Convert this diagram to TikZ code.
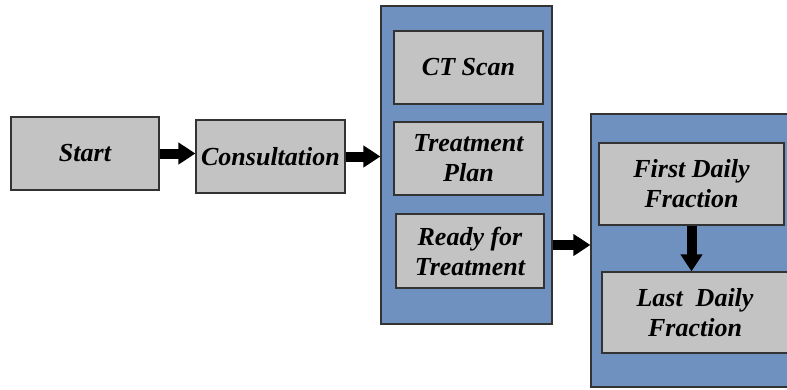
\documentclass[tikz,border=0pt]{standalone}
\usepackage{fontspec}
\setmainfont{Liberation Serif}
\usepackage{xcolor}
\usetikzlibrary{arrows.meta, positioning}
\definecolor{panelblue}{RGB}{110, 145, 191}
\definecolor{stepgray}{RGB}{195, 195, 195}

\begin{document}
\begin{tikzpicture}[
    x=1pt, y=-1pt,
    panel/.style={rectangle, draw=black!80, fill=panelblue, line width=1.2pt, inner sep=0pt},
    stepbox/.style={rectangle, draw=black!80, fill=stepgray, line width=1.2pt, align=center, inner sep=0pt,
        font=\fontsize{26}{30}\selectfont\bfseries\itshape},
    arrow/.style={-{Triangle[length=17pt, width=21pt]}, line width=10pt}
]
\useasboundingbox (0,0) rectangle (787,389);

% Left steps
\node[stepbox, minimum width=148pt, minimum height=73pt] (start) at (85,153.5) {Start};
\node[stepbox, minimum width=149pt, minimum height=73pt] (consult) at (270.5,156.5) {Consultation};

% Planning panel
\node[panel, minimum width=171pt, minimum height=318pt] (planning) at (466.5,165) {};
\node[stepbox, minimum width=149pt, minimum height=73pt] (ctscan) at (468.5,67.5) {CT Scan};
\node[stepbox, minimum width=149pt, minimum height=73pt] (plan) at (468.5,158.5) {Treatment\\Plan};
\node[stepbox, minimum width=148pt, minimum height=74pt] (ready) at (470,251) {Ready for\\Treatment};

% Delivery panel
\node[panel, minimum width=198pt, minimum height=273pt] (delivery) at (690,250.5) {};
\node[stepbox, minimum width=185pt, minimum height=82pt] (first) at (691.5,184) {First Daily\\Fraction};
\node[stepbox, minimum width=186pt, minimum height=81pt] (last) at (695,312.5) {Last~ Daily\\Fraction};

% Arrows
\draw[arrow] (start.east) -- (start.east -| consult.west);
\draw[arrow] (consult.east) -- (consult.east -| planning.west);
\draw[arrow] ([yshift=6pt]ready.east -| planning.east) -- ([yshift=6pt]ready.east -| delivery.west);
\draw[arrow] (first.south) -- (first.south |- last.north);

\end{tikzpicture}
\end{document}
